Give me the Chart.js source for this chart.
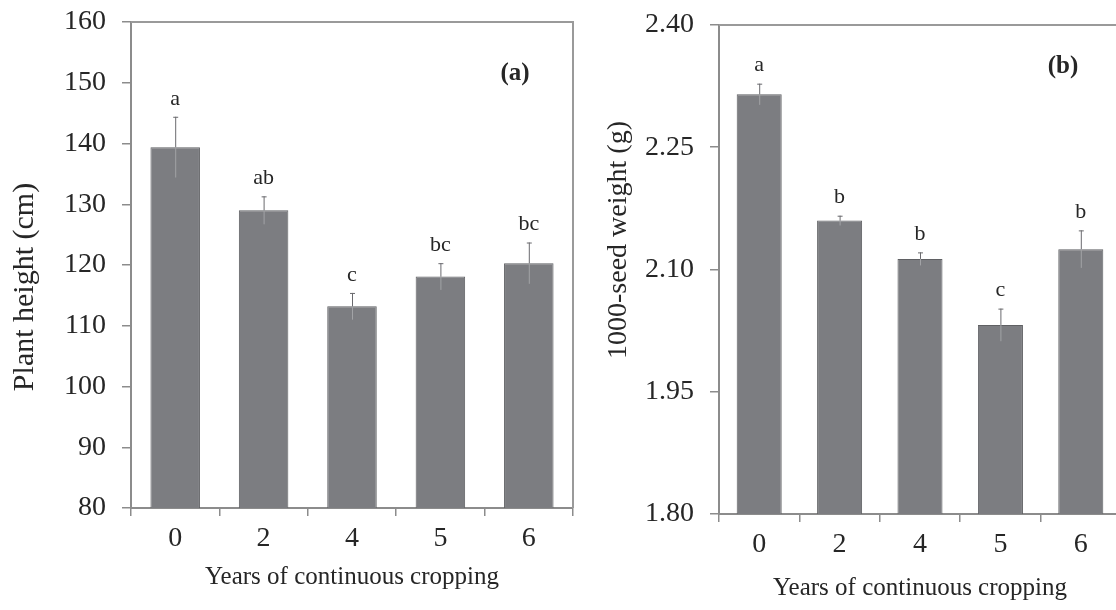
<!DOCTYPE html>
<html>
<head>
<meta charset="utf-8">
<script src="https://cdn.jsdelivr.net/npm/chart.js@4/dist/chart.umd.min.js"></script>
<style>
  body { margin: 0; background: #fff; overflow: hidden; width: 1116px; height: 610px; position: relative; }
  .panel { position: absolute; top: 0; }
</style>
</head>
<body>
<div class="panel" style="left:0px;width:580px;height:610px"><canvas id="chartA" width="580" height="610"></canvas></div>
<div class="panel" style="left:580px;width:545px;height:610px"><canvas id="chartB" width="545" height="610"></canvas></div>
<script>
// data
var years = ['0', '2', '4', '5', '6']

var heightMean = [139.4, 129.0, 113.2, 118.1, 120.3]
var heightErr = [5.0, 2.3, 2.2, 2.2, 3.4]
var heightLetters = ['a', 'ab', 'c', 'bc', 'bc']

var weightMean = [2.315, 2.160, 2.113, 2.032, 2.125]
var weightErr = [0.013, 0.006, 0.008, 0.020, 0.023]
var weightLetters = ['a', 'b', 'b', 'c', 'b']

var SERIF = '"Liberation Serif", "DejaVu Serif", serif'
var TEXT = '#262626'
var AXIS = '#8c8c8c'
var BAR = '#7c7d81'

// error bars, letters, frame, y title and panel tag
var extras = {
    id: 'extras',
    afterDatasetsDraw: function(chart, args, opts){
        var ctx = chart.ctx
        var x = chart.scales.x, y = chart.scales.y
        var area = chart.chartArea
        var mean = chart.data.datasets[0].data

        ctx.save()
        for (var i = 0; i < mean.length; i++) {
            var px = x.getPixelForValue(i)
            var top = y.getPixelForValue(mean[i] + opts.err[i])
            var bar = y.getPixelForValue(mean[i])
            var low = y.getPixelForValue(mean[i] - opts.err[i])

            ctx.lineWidth = 1
            ctx.strokeStyle = '#a2a3a6'
            ctx.beginPath(); ctx.moveTo(px + 0.5, bar); ctx.lineTo(px + 0.5, low); ctx.stroke()
            ctx.strokeStyle = '#6a6a6e'
            ctx.beginPath(); ctx.moveTo(px + 0.5, top); ctx.lineTo(px + 0.5, bar); ctx.stroke()
            ctx.beginPath(); ctx.moveTo(px - 2, top + 0.5); ctx.lineTo(px + 3, top + 0.5); ctx.stroke()

            ctx.fillStyle = TEXT
            ctx.font = '22px ' + SERIF
            ctx.textAlign = 'center'
            ctx.textBaseline = 'bottom'
            ctx.fillText(opts.letters[i], px, top - 7)
        }

        // top and right sides of the box
        ctx.strokeStyle = '#9a9a9a'
        ctx.lineWidth = 2
        ctx.beginPath()
        ctx.moveTo(area.left, area.top)
        ctx.lineTo(area.right, area.top)
        ctx.lineTo(area.right, area.bottom)
        ctx.stroke()

        ctx.fillStyle = TEXT
        ctx.font = 'bold 25px ' + SERIF
        ctx.textAlign = 'center'
        ctx.textBaseline = 'middle'
        ctx.fillText(opts.tag, area.right + opts.tagDx, area.top + opts.tagDy)

        // y title sits off-centre in the original
        ctx.translate(opts.yTitleX, opts.yTitleY)
        ctx.rotate(-Math.PI / 2)
        ctx.font = opts.yTitleSize + 'px ' + SERIF
        ctx.fillText(opts.yTitle, 0, 0)
        ctx.restore()
    }
}

function MakePanel(canvasId, p){
    return new Chart(document.getElementById(canvasId), {
        type: 'bar',
        data: {
            labels: years,
            datasets: [{
                data: p.mean,
                backgroundColor: BAR,
                borderColor: '#5f6063',
                borderWidth: 1,
                categoryPercentage: 1,
                barPercentage: 0.56
            }]
        },
        options: {
            responsive: false,
            animation: false,
            events: [],
            layout: { padding: { top: p.top, right: p.right, left: 0, bottom: 0 } },
            plugins: {
                legend: { display: false },
                tooltip: { enabled: false },
                extras: { err: p.err, letters: p.letters, tag: p.tag, tagDx: p.tagDx, tagDy: p.tagDy,
                          yTitle: p.yTitle, yTitleSize: p.yTitleSize, yTitleX: p.yTitleX, yTitleY: p.yTitleY }
            },
            scales: {
                x: {
                    offset: true,
                    grid: { offset: true, drawOnChartArea: false, tickLength: 8, color: AXIS, lineWidth: 1.5 },
                    border: { color: AXIS, width: 2 },
                    ticks: { color: TEXT, font: { family: SERIF, size: 28 }, padding: 6, maxRotation: 0 },
                    title: { display: true, text: 'Years of continuous cropping', color: TEXT,
                             font: { family: SERIF, size: 25 }, padding: { top: 0, bottom: p.xTitlePad } },
                    afterFit: function(s){ s.height = p.xHeight; s.paddingLeft = 0; s.paddingRight = 0 }
                },
                y: {
                    min: p.min, max: p.max,
                    grid: { drawOnChartArea: false, tickLength: 9, color: AXIS, lineWidth: 1.5 },
                    border: { color: AXIS, width: 2 },
                    ticks: { stepSize: p.step, color: TEXT, font: { family: SERIF, size: 28 }, padding: p.tickPad,
                             callback: function(v){ return p.fmt(v) } },
                    title: { display: false },
                    afterFit: function(s){ s.width = p.yWidth; s.paddingTop = 0; s.paddingBottom = 0 }
                }
            }
        },
        plugins: [extras]
    })
}

MakePanel('chartA', {
    mean: heightMean, err: heightErr, letters: heightLetters, tag: '(a)',
    min: 80, max: 160, step: 10, fmt: function(v){ return String(v) },
    yTitle: 'Plant height (cm)', yTitleSize: 30, yTitleX: 25, yTitleY: 287,
    top: 22, right: 7, yWidth: 131, xHeight: 102, xTitlePad: 18, tickPad: 16,
    tagDx: -58, tagDy: 52
})

MakePanel('chartB', {
    mean: weightMean, err: weightErr, letters: weightLetters, tag: '(b)',
    min: 1.80, max: 2.40, step: 0.15, fmt: function(v){ return v.toFixed(2) },
    yTitle: '1000-seed weight (g)', yTitleSize: 28, yTitleX: 39, yTitleY: 240,
    top: 25, right: 4, yWidth: 139, xHeight: 96, xTitlePad: 7, tickPad: 16,
    tagDx: -58, tagDy: 42
})
</script>
</body>
</html>
